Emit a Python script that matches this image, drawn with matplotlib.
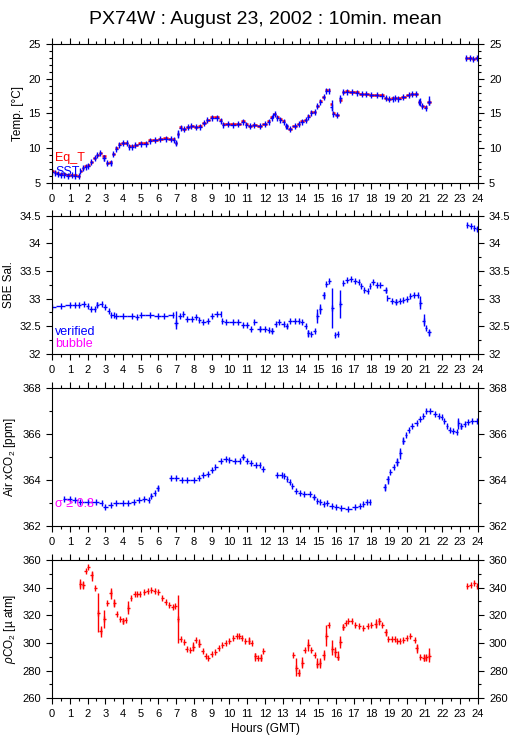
import numpy as np
import matplotlib
matplotlib.use("Agg")
import matplotlib.pyplot as plt
from matplotlib.ticker import MultipleLocator

plt.rcParams['font.family'] = ['Liberation Sans', 'DejaVu Sans']
plt.rcParams['mathtext.fontset'] = 'custom'
plt.rcParams['mathtext.rm'] = 'Liberation Sans'
plt.rcParams['mathtext.it'] = 'Liberation Sans:italic'

# Temperature panel (hours GMT, deg C)
temp_t = [0.0, 0.17, 0.33, 0.5, 0.7, 0.9, 1.1, 1.3, 1.5, 1.6,
          1.75, 1.9, 2.05, 2.2, 2.4, 2.55, 2.7, 2.95, 3.1, 3.3,
          3.45, 3.6, 3.8, 4.0, 4.2, 4.35, 4.5, 4.7, 5.0, 5.3,
          5.5, 5.8, 6.1, 6.4, 6.7, 6.85, 7.0, 7.1, 7.25, 7.45,
          7.65, 7.85, 8.1, 8.35, 8.55, 8.75, 9.0, 9.3, 9.5, 9.65,
          9.9, 10.2, 10.5, 10.75, 10.95, 11.15, 11.4, 11.7, 12.0, 12.2,
          12.4, 12.55, 12.7, 12.85, 13.05, 13.2, 13.4, 13.7, 13.9, 14.1,
          14.3, 14.45, 14.6, 14.8, 14.95, 15.1, 15.3, 15.45, 15.6, 15.75,
          15.85, 16.05, 16.25, 16.4, 16.6, 16.9, 17.2, 17.45, 17.7, 18.0,
          18.3, 18.6, 18.8, 19.0, 19.2, 19.35, 19.5, 19.8, 20.1, 20.3,
          20.5, 20.7, 20.85, 21.05, 21.25, 23.35, 23.55, 23.75, 23.95]
sst = [6.5, 6.4, 6.3, 6.1, 6.1, 6.0, 6.05, 6.0, 5.95, 6.7,
       7.1, 7.3, 7.45, 8.0, 8.5, 9.0, 9.3, 8.6, 7.85, 7.9,
       9.15, 9.9, 10.5, 10.7, 10.7, 10.2, 10.2, 10.45, 10.65, 10.65,
       11.05, 11.2, 11.25, 11.35, 11.3, 11.2, 10.75, 12.0, 12.95, 12.8,
       13.0, 13.2, 13.05, 13.1, 13.6, 14.0, 14.4, 14.4, 13.95, 13.4,
       13.5, 13.4, 13.45, 13.8, 13.4, 13.15, 13.3, 13.2, 13.45, 13.8,
       14.4, 14.9, 14.4, 14.1, 13.8, 13.2, 12.75, 13.2, 13.45, 13.8,
       14.0, 14.55, 15.1, 15.2, 16.1, 16.7, 17.4, 18.3, 18.3, 15.9,
       14.95, 14.75, 17.2, 18.1, 18.15, 18.05, 18.0, 17.8, 17.8, 17.6,
       17.6, 17.55, 17.2, 17.1, 17.15, 17.2, 17.15, 17.35, 17.6, 17.8,
       17.75, 16.7, 16.1, 15.85, 16.7, 23.0, 22.95, 22.9, 23.0]
eq_t = [6.7, 6.6, 6.4, 6.2, 6.2, 6.1, 6.1, 6.05, 6.0, 6.75,
        7.15, 7.35, 7.5, 8.05, 8.5, 9.05, 9.35, 8.9, 7.9, 7.95,
        9.2, 9.95, 10.55, 10.75, 10.75, 10.25, 10.25, 10.5, 10.7, 10.7,
        11.1, 11.2, 11.3, 11.4, 11.35, 11.25, 10.8, 12.1, 13.0, 12.8,
        13.05, 13.25, 13.1, 13.15, 13.65, 14.05, 14.45, 14.45, 14.0, 13.45,
        13.55, 13.45, 13.5, 13.85, 13.45, 13.2, 13.35, 13.25, 13.5, 13.85,
        14.45, 14.9, 14.45, 14.15, 13.85, 13.25, 12.8, 13.25, 13.5, 13.85,
        14.05, 14.6, 15.15, 15.25, 16.15, 16.75, 17.45, 18.35, 18.35, 16.3,
        15.0, 14.8, 16.9, 18.15, 18.2, 18.1, 18.05, 17.85, 17.85, 17.65,
        17.65, 17.6, 17.25, 17.15, 17.2, 17.25, 17.2, 17.4, 17.65, 17.85,
        17.8, 16.7, 16.15, 15.9, 16.7, 23.0, 22.95, 22.9, 23.0]
temp_bar_t = [2.95, 3.3, 7.0, 7.1, 12.45, 13.25, 15.75, 16.25, 20.75, 21.25]
temp_bar_lo = [8.2, 7.6, 10.5, 11.5, 14.3, 12.7, 15.3, 16.5, 16.1, 16.2]
temp_bar_hi = [9.0, 8.2, 11.0, 12.6, 15.0, 13.5, 16.9, 17.4, 17.2, 17.5]

# Salinity panel
sal_t = [0.0, 0.5, 1.0, 1.3, 1.5, 1.8, 2.0, 2.2, 2.4, 2.55,
         2.8, 3.0, 3.2, 3.35, 3.6, 4.0, 4.5, 4.8, 5.0, 5.5,
         6.0, 6.3, 6.8, 7.0, 7.2, 7.4, 7.6, 7.9, 8.1, 8.3,
         8.5, 8.8, 9.0, 9.3, 9.5, 9.6, 9.8, 10.2, 10.5, 10.75,
         11.0, 11.2, 11.4, 11.7, 12.0, 12.2, 12.4, 12.6, 12.8, 13.05,
         13.25, 13.4, 13.7, 13.9, 14.1, 14.3, 14.45, 14.6, 14.8, 14.95,
         15.1, 15.3, 15.45, 15.6, 15.8, 15.95, 16.1, 16.25, 16.4, 16.6,
         16.85, 17.1, 17.3, 17.4, 17.6, 17.8, 17.9, 18.1, 18.3, 18.5,
         18.8, 18.9, 19.15, 19.4, 19.6, 19.8, 20.0, 20.2, 20.4, 20.6,
         20.75, 20.95, 21.05, 21.25, 23.4, 23.6, 23.8, 23.95]
sal = [32.85, 32.86, 32.88, 32.88, 32.89, 32.91, 32.87, 32.81, 32.82, 32.88,
       32.9, 32.84, 32.78, 32.71, 32.69, 32.69, 32.68, 32.67, 32.7, 32.7,
       32.69, 32.68, 32.71, 32.56, 32.69, 32.72, 32.64, 32.64, 32.66, 32.62,
       32.58, 32.59, 32.69, 32.72, 32.73, 32.6, 32.57, 32.57, 32.57, 32.52,
       32.53, 32.46, 32.57, 32.46, 32.45, 32.43, 32.42, 32.55, 32.57, 32.54,
       32.51, 32.59, 32.6, 32.59, 32.57, 32.5, 32.38, 32.36, 32.41, 32.69,
       32.81, 33.07, 33.26, 33.31, 32.83, 32.35, 32.36, 32.91, 33.29, 33.34,
       33.35, 33.31, 33.3, 33.23, 33.15, 33.13, 33.22, 33.3, 33.25, 33.25,
       33.15, 33.01, 32.96, 32.94, 32.95, 32.98, 33.0, 33.04, 33.07, 33.06,
       32.92, 32.6, 32.47, 32.39, 34.33, 34.32, 34.28, 34.25]
sal_bar_t = [2.55, 3.5, 7.0, 11.7, 12.4, 13.25, 14.45, 14.95, 15.1, 15.3,
             15.8, 16.25, 18.8, 19.4, 20.75, 20.95, 21.25]
sal_bar_lo = [32.84, 32.65, 32.46, 32.42, 32.38, 32.47, 32.31, 32.56, 32.72, 33.0,
              32.47, 32.65, 33.1, 32.9, 32.81, 32.5, 32.32]
sal_bar_hi = [32.93, 32.75, 32.77, 32.5, 32.47, 32.55, 32.43, 32.82, 32.9, 33.12,
              33.19, 33.16, 33.2, 32.99, 33.05, 32.72, 32.44]

# Air xCO2 panel
air_t = [0.7, 1.0, 1.3, 1.6, 2.0, 2.5, 2.8, 3.0, 3.3, 3.6,
         4.0, 4.3, 4.6, 4.9, 5.2, 5.45, 5.6, 5.8, 5.95,
         6.7, 7.0, 7.3, 7.6, 8.0, 8.3, 8.5, 8.8, 9.0, 9.2,
         9.5, 9.8, 10.0, 10.3, 10.6, 10.75, 11.0, 11.2, 11.5, 11.7,
         11.9, 12.67, 12.95, 13.1, 13.25, 13.4, 13.55, 13.75, 13.95,
         14.2, 14.55, 14.75, 14.95, 15.1, 15.3, 15.5, 15.75, 16.0, 16.3,
         16.7, 17.1, 17.35, 17.55, 17.75, 17.9, 18.75, 18.93, 19.06,
         19.25, 19.45, 19.6, 19.8, 19.95, 20.1, 20.3, 20.55, 20.75, 20.9,
         21.1, 21.3, 21.6, 21.8, 21.95, 22.1, 22.25, 22.4, 22.6, 22.8,
         22.9, 23.05, 23.25, 23.45, 23.65, 23.95]
air_xco2 = [363.19, 363.19, 363.14, 363.04, 363.04, 363.04, 363.0, 362.84, 362.93, 362.99,
            362.99, 362.99, 363.07, 363.12, 363.19, 363.14, 363.33, 363.45, 363.65,
            364.09, 364.09, 363.99, 363.99, 364.01, 364.09, 364.23, 364.28, 364.43, 364.59,
            364.81, 364.93, 364.88, 364.84, 364.84, 364.99, 364.84, 364.74, 364.64, 364.64,
            364.49, 364.23, 364.23, 364.2, 364.04, 363.9, 363.75, 363.55, 363.43,
            363.41, 363.41, 363.25, 363.1, 363.04, 362.97, 363.0, 362.88, 362.83, 362.8,
            362.77, 362.83, 362.87, 362.97, 363.04, 363.07, 363.7, 364.04, 364.35,
            364.55, 364.78, 365.17, 365.71, 365.97, 366.19, 366.36, 366.48, 366.65, 366.8,
            366.99, 366.99, 366.88, 366.8, 366.74, 366.58, 366.36, 366.19, 366.12, 366.07,
            366.48, 366.33, 366.43, 366.51, 366.58, 366.58]
air_bar_t = [5.6, 5.95, 10.75, 14.75, 18.75, 18.93, 19.45, 19.6, 19.8, 22.9, 23.05]
air_bar_lo = [363.25, 363.55, 364.9, 363.18, 363.55, 363.85, 364.6, 364.9, 365.55, 366.2, 366.2]
air_bar_hi = [363.4, 363.75, 365.1, 363.32, 363.85, 364.2, 364.95, 365.4, 365.85, 366.7, 366.45]

# Seawater pCO2 panel
pco2_t = [1.6, 1.75, 1.9, 2.05, 2.25, 2.45, 2.6, 2.75, 2.95, 3.1,
          3.3, 3.5, 3.65, 3.85, 4.0, 4.15, 4.3, 4.45, 4.65, 4.8,
          4.95, 5.2, 5.4, 5.6, 5.8, 6.0, 6.2, 6.4, 6.6, 6.8,
          6.95, 7.1, 7.25, 7.45, 7.6, 7.8, 7.95, 8.1, 8.3, 8.5,
          8.65, 8.8, 9.0, 9.2, 9.4, 9.6, 9.8, 10.0, 10.2, 10.4,
          10.55, 10.7, 10.9, 11.1, 11.25, 11.45, 11.6, 11.75, 11.9, 13.6,
          13.75, 13.9, 14.1, 14.25, 14.45, 14.6, 14.8, 14.95, 15.1, 15.3,
          15.45, 15.6, 15.8, 15.95, 16.1, 16.25, 16.4, 16.55, 16.7, 16.9,
          17.1, 17.3, 17.55, 17.8, 18.0, 18.25, 18.45, 18.6, 18.8, 18.95,
          19.15, 19.3, 19.45, 19.6, 19.8, 20.0, 20.2, 20.45, 20.55, 20.75,
          20.95, 21.1, 21.25, 23.4, 23.6, 23.8, 23.95]
pco2 = [342.7, 341.8, 351.9, 355.0, 348.8, 339.8, 321.7, 308.4, 317.4, 329.0,
        336.2, 329.0, 321.2, 317.6, 315.7, 316.9, 325.3, 332.6, 335.5, 335.5,
        335.5, 336.7, 337.2, 337.9, 337.4, 336.7, 332.1, 329.7, 327.7, 326.0,
        326.5, 317.4, 302.9, 300.5, 295.9, 295.2, 297.1, 301.9, 299.5, 294.0,
        290.3, 289.1, 292.3, 293.2, 296.4, 298.3, 300.0, 301.2, 303.6, 304.8,
        305.3, 303.6, 301.2, 301.2, 300.0, 290.8, 289.1, 289.1, 294.0, 291.1,
        281.9, 278.2, 285.5, 294.7, 298.8, 294.7, 291.5, 285.0, 285.5, 291.1,
        305.3, 313.3, 295.6, 293.2, 289.8, 300.7, 311.5, 314.5, 315.7, 315.7,
        313.3, 312.1, 310.9, 312.1, 313.3, 313.7, 316.1, 313.3, 307.7, 302.9,
        302.9, 302.9, 301.2, 301.2, 302.4, 303.6, 304.8, 302.4, 296.4, 289.6,
        289.1, 289.8, 290.8, 341.0, 342.2, 343.4, 341.0]
pco2_bar_t = [1.6, 1.75, 2.25, 2.6, 2.75, 2.95, 3.3, 3.5, 4.0, 4.3,
              7.1, 7.95, 8.3, 11.1, 11.45, 11.75, 13.75, 13.9, 14.1, 14.45,
              14.95, 15.1, 15.3, 15.45, 15.8, 15.95, 16.1, 16.25, 16.4, 18.25,
              18.45, 18.8, 20.55, 20.95, 21.1, 21.25]
pco2_bar_lo = [339, 339, 345, 308, 304, 311, 332, 326, 314, 321,
               300, 294, 297, 299, 287, 287, 276, 276, 282, 294,
               282, 282, 288, 298, 291, 290, 288, 296, 309, 311,
               313, 305, 293, 287, 287, 286]
pco2_bar_hi = [346, 345, 352, 336, 312, 324, 340, 332, 318, 330,
               334.5, 301, 303, 304, 293, 292, 289, 281, 290, 303,
               289, 289, 295, 313, 302, 297, 294, 305, 314, 317,
               318, 310, 299, 292, 291, 296]

hours = list(range(0, 25))

BLUE = '#0000ff'
RED = '#ff0000'
MAGENTA = '#ff00ff'
HALF = 1 / 12   # half of a 10-minute averaging window, in hours
GAP = 0.6       # spacing (hours) treated as a hole in the record

fig = plt.figure(figsize=(5.15, 7.39), dpi=100)

# axes boxes in figure fractions (left, bottom, width, height)
L, W, H = 0.101, 0.827, 0.1873
bottoms = [0.7528, 0.521, 0.2878, 0.0551]


def style_axis(ax, ylo, yhi, major, minor):
    ax.set_xlim(0, 24)
    ax.set_ylim(ylo, yhi)
    ax.set_xticks(hours)
    ax.xaxis.set_minor_locator(MultipleLocator(0.5))
    ax.yaxis.set_major_locator(MultipleLocator(major))
    ax.yaxis.set_minor_locator(MultipleLocator(minor))
    ax.tick_params(which='both', direction='out', top=True, right=True,
                   labelright=True, labelsize=8, width=0.8, color='black')
    ax.tick_params(which='major', length=4, pad=4)
    ax.tick_params(which='minor', length=2)
    for sp in ax.spines.values():
        sp.set_linewidth(0.8)


def segment_edges(t):
    # each mean covers the span half way to its neighbours,
    # or one 10-minute window where the record has a hole
    t = np.asarray(t, dtype=float)
    left = t - HALF
    right = t + HALF
    d = np.diff(t)
    ok = d <= GAP
    mids = t[:-1] + d / 2
    right[:-1] = np.where(ok, mids, right[:-1])
    left[1:] = np.where(ok, mids, left[1:])
    return left, right


def draw_means(ax, t, v, color, lw=1.0, ticks=True):
    left, right = segment_edges(t)
    ax.hlines(v, left, right, color=color, lw=lw)
    if ticks:
        ax.plot(t, v, '|', color=color, ms=4, mew=1.0)


# Panel 1: temperatures
ax1 = fig.add_axes([L, bottoms[0], W, H])
draw_means(ax1, temp_t, eq_t, RED, lw=1.8, ticks=False)
draw_means(ax1, temp_t, sst, BLUE)
ax1.vlines(temp_bar_t, temp_bar_lo, temp_bar_hi, color=BLUE, lw=1.0)
style_axis(ax1, 5, 25, 5, 1)
ax1.set_ylabel("Temp. [°C]", fontsize=8.5, labelpad=3)
ax1.text(0.008, 0.18, "Eq_T", color=RED, fontsize=9, transform=ax1.transAxes, va='center')
ax1.text(0.008, 0.075, "SST", color=BLUE, fontsize=9, transform=ax1.transAxes, va='center')

# Panel 2: salinity
ax2 = fig.add_axes([L, bottoms[1], W, H])
draw_means(ax2, sal_t, sal, BLUE)
ax2.vlines(sal_bar_t, sal_bar_lo, sal_bar_hi, color=BLUE, lw=1.0)
style_axis(ax2, 32, 34.5, 0.5, 0.25)
ax2.set_yticks([32, 32.5, 33, 33.5, 34, 34.5])
ax2.set_yticklabels(['32', '32.5', '33', '33.5', '34', '34.5'])
ax2.set_ylabel("SBE Sal.", fontsize=8.5, labelpad=3)
ax2.text(0.008, 0.16, "verified", color=BLUE, fontsize=9, transform=ax2.transAxes, va='center')
ax2.text(0.008, 0.07, "bubble", color=MAGENTA, fontsize=9, transform=ax2.transAxes, va='center')

# Panel 3: air xCO2
ax3 = fig.add_axes([L, bottoms[2], W, H])
draw_means(ax3, air_t, air_xco2, BLUE)
ax3.vlines(air_bar_t, air_bar_lo, air_bar_hi, color=BLUE, lw=1.0)
style_axis(ax3, 362, 368, 2, 1)
ax3.set_ylabel("Air xCO$_2$ [ppm]", fontsize=8.5, labelpad=3)
ax3.text(0.008, 0.16, "σ ≥ 0.3", color=MAGENTA, fontsize=9, transform=ax3.transAxes, va='center')

# Panel 4: seawater pCO2
ax4 = fig.add_axes([L, bottoms[3], W, H])
ax4.errorbar(pco2_t, pco2, xerr=HALF, fmt='none', ecolor=RED, elinewidth=1.0)
ax4.plot(pco2_t, pco2, '|', color=RED, ms=4, mew=1.0)
ax4.vlines(pco2_bar_t, pco2_bar_lo, pco2_bar_hi, color=RED, lw=1.0)
style_axis(ax4, 260, 360, 20, 10)
ax4.set_ylabel("$\\rho$CO$_2$ [µ atm]", fontsize=8.5, labelpad=3)

fig.text(0.5146, 1 - 20 / 739, "PX74W : August 23, 2002 : 10min. mean",
         ha='center', va='center', fontsize=14)
fig.text(0.5146, 1 - 729 / 739, "Hours (GMT)", ha='center', va='center', fontsize=8.5)

fig.savefig("out.png", dpi=100)
